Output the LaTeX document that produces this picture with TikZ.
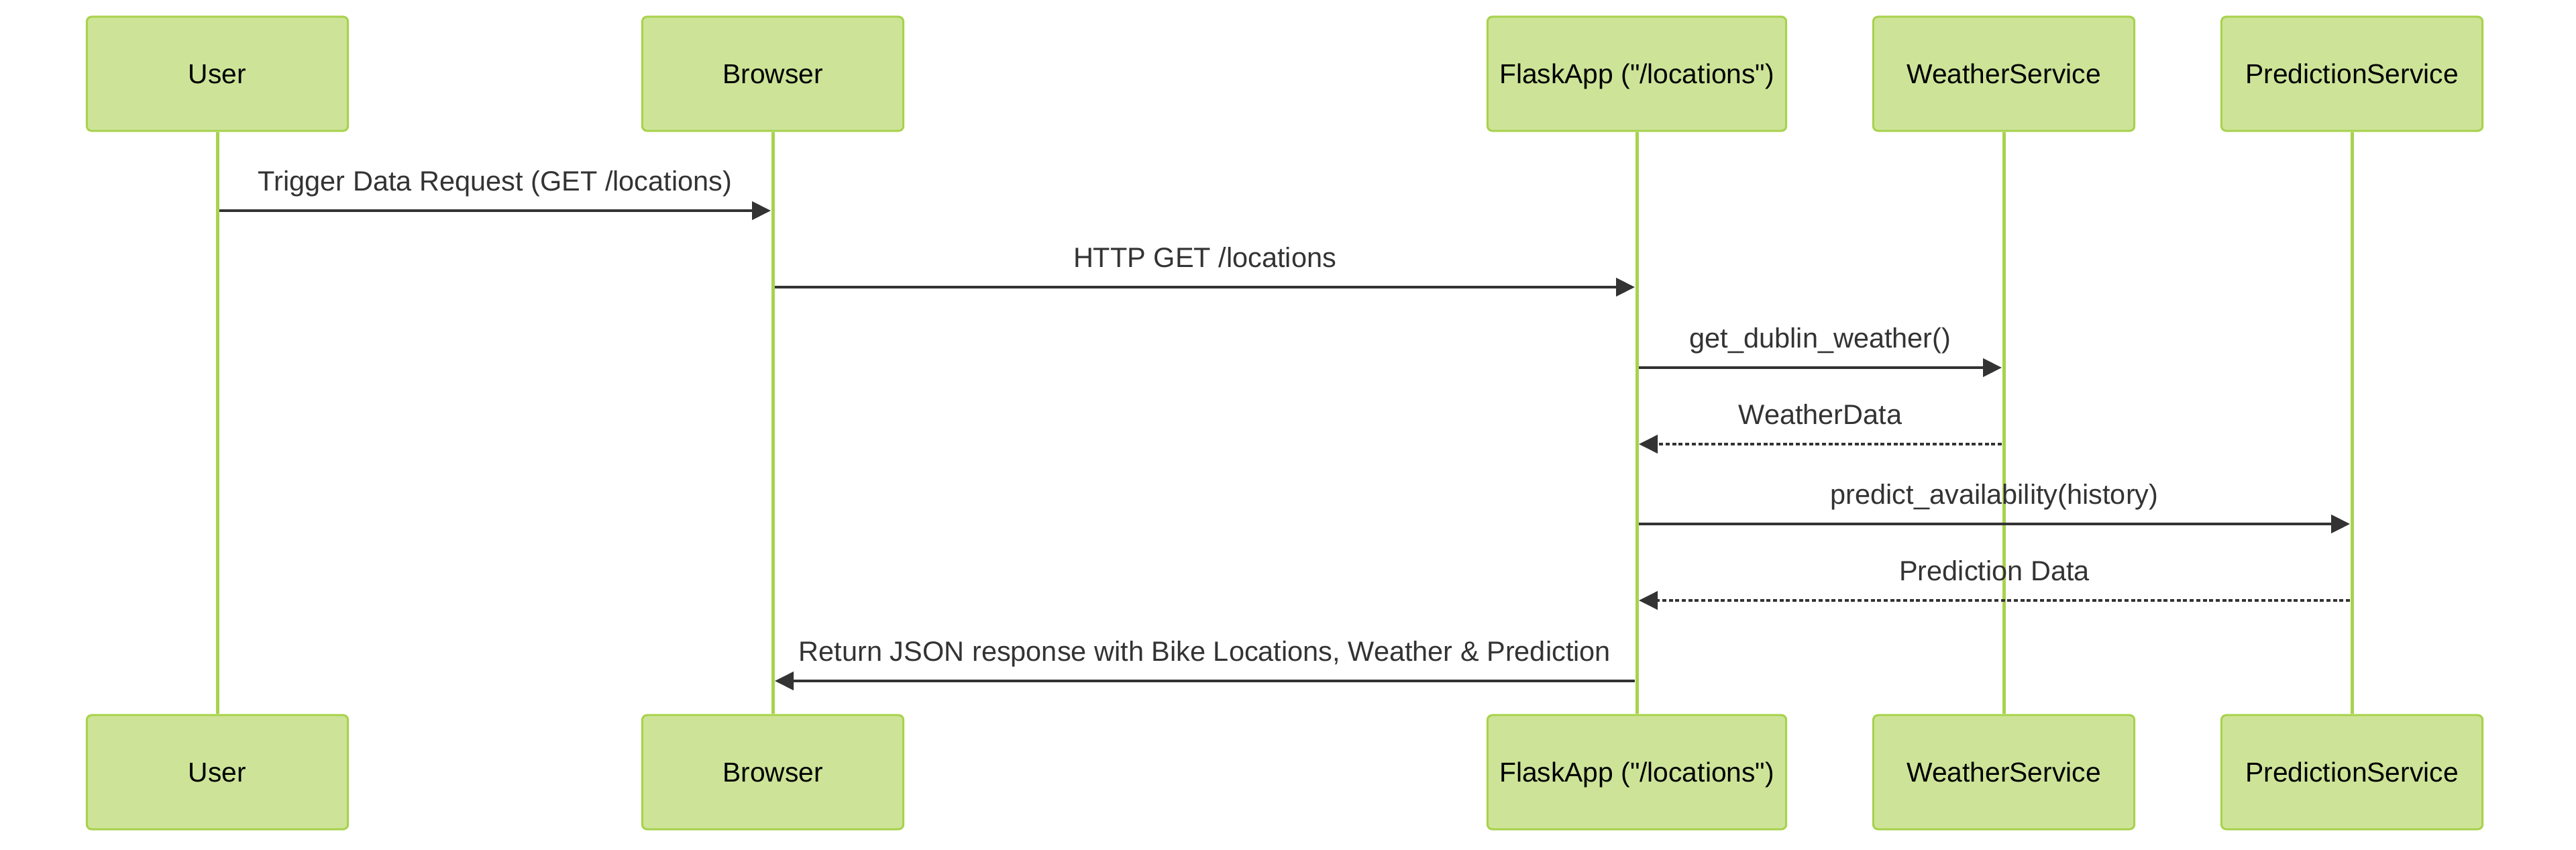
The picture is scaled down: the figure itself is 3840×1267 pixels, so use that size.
\documentclass[tikz,border=0pt]{standalone}
\usepackage{fontspec}
\setmainfont{Liberation Sans}
\usetikzlibrary{arrows.meta}

\definecolor{actorfill}{HTML}{CDE498}
\definecolor{actorline}{HTML}{A8D24C}
\definecolor{msgcolor}{HTML}{333333}

\begin{document}
\begin{tikzpicture}[x=0.01cm, y=-0.01cm]
		\tikzstyle {actor box} = [draw=actorline, fill=actorfill, line width=0.03cm, rounded corners=0.07cm, minimum height=1.7cm, text height=8.3pt, text depth=0pt, font=\fontsize{11.6}{14}\selectfont]
		\tikzstyle {life line} = [draw=actorline, line width=0.05cm]
		\tikzstyle {msg} = [draw=msgcolor, line width=0.04cm, -{Triangle[length=0.28cm, width=0.27cm]}, shorten <=0.03cm, shorten >=0.03cm]
		\tikzstyle {reply} = [msg, dash pattern=on 0.06cm off 0.037cm]
		\tikzstyle {msg label} = [anchor=base, yshift=0.29cm, inner sep=0pt, text=msgcolor, font=\fontsize{11.8}{14}\selectfont]

		\useasboundingbox (0,0) rectangle (3840,1267);

		\foreach \name/\x/\w/\label in {user/324/3.89cm/User, browser/1152/3.89cm/Browser, flask/2440/4.45cm/{FlaskApp (\textquotedbl/locations\textquotedbl)}, weather/2987/3.89cm/WeatherService, prediction/3506/3.89cm/PredictionService}
		{
			\node[actor box, minimum width=\w] (\name-top) at (\x,110) {\label};
			\node[actor box, minimum width=\w] (\name-bot) at (\x,1151) {\label};
			\draw[life line] (\name-top) -- (\name-bot);
		}

		\foreach \i/\y in {1/314, 2/428, 3/548, 4/662, 5/781, 6/895, 7/1015}
		{
			\coordinate (m\i) at (0,\y);
		}

		\draw[msg] (user-top|-m1) -- node[msg label] {Trigger Data Request (GET /locations)} (browser-top|-m1);
		\draw[msg] (browser-top|-m2) -- node[msg label] {HTTP GET /locations} (flask-top|-m2);
		\draw[msg] (flask-top|-m3) -- node[msg label] {get\_dublin\_weather()} (weather-top|-m3);
		\draw[reply] (weather-top|-m4) -- node[msg label] {WeatherData} (flask-top|-m4);
		\draw[msg] (flask-top|-m5) -- node[msg label] {predict\_availability(history)} (prediction-top|-m5);
		\draw[reply] (prediction-top|-m6) -- node[msg label] {Prediction Data} (flask-top|-m6);
		\draw[msg] (flask-top|-m7) -- node[msg label] {Return JSON response with Bike Locations, Weather \& Prediction} (browser-top|-m7);

	\end{tikzpicture}
\end{document}
